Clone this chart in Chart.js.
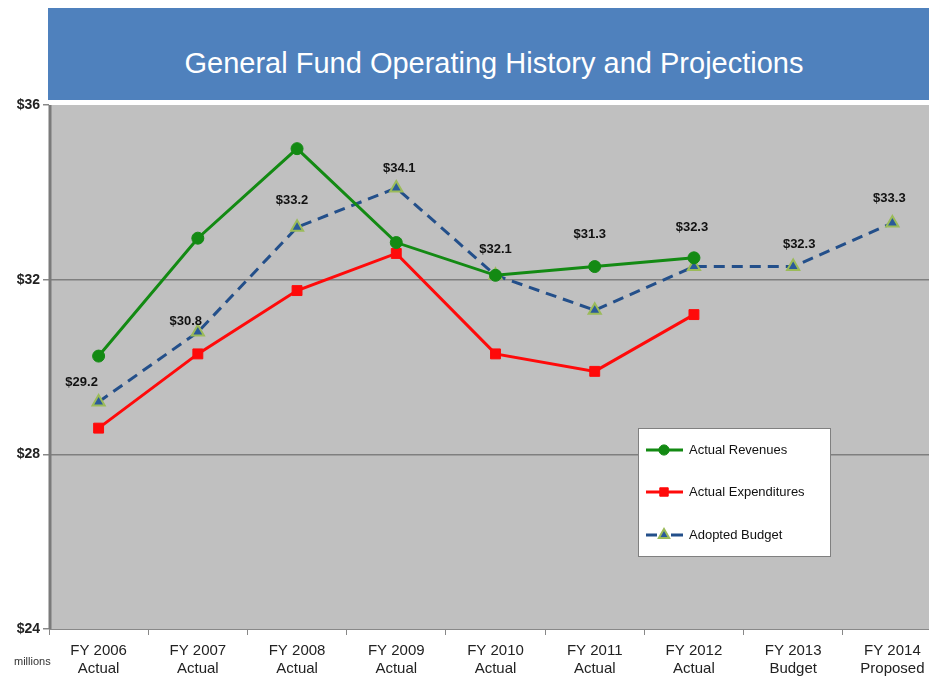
<!DOCTYPE html>
<html>
<head>
<meta charset="utf-8">
<script src="https://cdn.jsdelivr.net/npm/chart.js@4.4.1/dist/chart.umd.min.js"></script>
<style>
  html, body { margin: 0; padding: 0; background: #fff; overflow: hidden; width: 929px; height: 679px; }
  #banner {
    position: absolute; left: 48px; top: 8px; width: 892px; height: 92px;
    background: #4f81bd; color: #fff; font-family: "Liberation Sans", Arial, sans-serif;
    font-size: 29px; line-height: 29px; text-align: center; box-sizing: border-box;
    padding-top: 41px;
  }
  #wrap { position: absolute; left: 0; top: 0; width: 960px; height: 679px; }
  #millions { position: absolute; left: 14px; top: 655px; font: 11px "Liberation Sans", Arial, sans-serif; color: #333; }
</style>
</head>
<body>
<div id="wrap"><canvas id="chart" width="960" height="679"></canvas></div>
<div id="banner">General Fund Operating History and Projections</div>
<div id="millions">millions</div>
<script>
// --- Data ---
const categories = [
  ["FY 2006", "Actual"], ["FY 2007", "Actual"], ["FY 2008", "Actual"],
  ["FY 2009", "Actual"], ["FY 2010", "Actual"], ["FY 2011", "Actual"],
  ["FY 2012", "Actual"], ["FY 2013", "Budget"], ["FY 2014", "Proposed"],
];
const revenues = [30.25, 32.95, 35.0, 32.85, 32.1, 32.3, 32.5, null, null];
const expenditures = [28.6, 30.3, 31.75, 32.6, 30.3, 29.9, 31.2, null, null];
const budget = [29.2, 30.8, 33.2, 34.1, 32.1, 31.3, 32.3, 32.3, 33.3];
const yTicks = [24, 28, 32, 36];

// label offsets (px) for the budget values
const labelOffsets = [
  [-17, -20], [-12, -11], [-5, -27], [3, -20], [0, -26],
  [-5, -76], [-2, -39], [6, -22], [-3, -24],
];

const FONT = '"Liberation Sans", Arial, sans-serif';

const budgetLabels = {
  id: "budgetLabels",
  afterDatasetsDraw(c) {
    const ctx = c.ctx;
    const meta = c.getDatasetMeta(2);
    ctx.save();
    ctx.font = "bold 13px " + FONT;
    ctx.fillStyle = "#111";
    ctx.textAlign = "center";
    ctx.textBaseline = "middle";
    meta.data.forEach((pt, i) => {
      const [dx, dy] = labelOffsets[i];
      ctx.fillText("$" + budget[i].toFixed(1), pt.x + dx, pt.y + dy);
    });
    ctx.restore();
  },
};

const plotFrame = {
  id: "plotFrame",
  beforeDraw(c) {
    const { ctx, chartArea: a } = c;
    ctx.save();
    ctx.fillStyle = "#c0c0c0";
    ctx.fillRect(a.left, a.top, a.right - a.left, a.bottom - a.top);
    ctx.restore();
  },
  beforeDatasetsDraw(c) {
    const { ctx, chartArea: a } = c;
    ctx.save();
    ctx.strokeStyle = "#7a7a7a";
    ctx.lineWidth = 3;
    ctx.beginPath();
    ctx.moveTo(a.left + 1, a.top);
    ctx.lineTo(a.left + 1, a.bottom);
    ctx.stroke();
    ctx.restore();
  },
};

const boxLegend = {
  id: "boxLegend",
  afterDraw(c) {
    const ctx = c.ctx;
    const x = 638, y = 428, w = 192, h = 128;
    ctx.save();
    ctx.fillStyle = "#fff";
    ctx.fillRect(x, y, w, h);
    ctx.strokeStyle = "#808080";
    ctx.lineWidth = 1;
    ctx.strokeRect(x + 0.5, y + 0.5, w, h);
    const rowsY = [450, 492, 535];
    c.data.datasets.forEach((ds, i) => {
      const ry = rowsY[i];
      ctx.strokeStyle = ds.borderColor;
      ctx.lineWidth = 3;
      ctx.beginPath();
      if (ds.borderDash) {
        ctx.moveTo(646, ry); ctx.lineTo(657, ry);
        ctx.moveTo(671, ry); ctx.lineTo(683, ry);
      } else {
        ctx.moveTo(646, ry); ctx.lineTo(683, ry);
      }
      ctx.stroke();
      ctx.fillStyle = ds.pointBackgroundColor;
      ctx.strokeStyle = ds.pointBorderColor;
      ctx.lineWidth = ds.pointBorderWidth || 1;
      Chart.helpers.drawPoint(ctx, {
        pointStyle: ds.pointStyle,
        radius: ds.pointRadius * 0.85,
        borderWidth: ds.pointBorderWidth || 1,
      }, 664, ry);
      ctx.fillStyle = "#111";
      ctx.font = "13px " + FONT;
      ctx.textAlign = "left";
      ctx.textBaseline = "middle";
      ctx.fillText(ds.label, 689, ry);
    });
    ctx.restore();
  },
};

new Chart(document.getElementById("chart"), {
  type: "line",
  data: {
    labels: categories,
    datasets: [
      {
        label: "Actual Revenues",
        data: revenues,
        borderColor: "#138a13",
        backgroundColor: "#138a13",
        pointBackgroundColor: "#138a13",
        pointBorderColor: "#138a13",
        borderWidth: 3,
        pointStyle: "circle",
        pointRadius: 6,
        pointBorderWidth: 1,
        tension: 0,
      },
      {
        label: "Actual Expenditures",
        data: expenditures,
        borderColor: "#ff0a0a",
        backgroundColor: "#ff0a0a",
        pointBackgroundColor: "#ff0a0a",
        pointBorderColor: "#ff0a0a",
        borderWidth: 3,
        pointStyle: "rect",
        pointRadius: 7,
        pointBorderWidth: 1,
        tension: 0,
      },
      {
        label: "Adopted Budget",
        data: budget,
        borderColor: "#234f8a",
        backgroundColor: "#234f8a",
        pointBackgroundColor: "#2a5a9a",
        pointBorderColor: "#9bbb59",
        borderWidth: 3,
        borderDash: [11, 7],
        pointStyle: "triangle",
        pointRadius: 7,
        pointBorderWidth: 2,
        tension: 0,
      },
    ],
  },
  options: {
    responsive: false,
    animation: false,
    layout: { padding: { left: 0, top: 105, right: 18, bottom: 0 } },
    plugins: { legend: { display: false }, tooltip: { enabled: false } },
    scales: {
      x: {
        offset: true,
        grid: {
          offset: true,
          drawOnChartArea: false,
          drawTicks: true,
          tickLength: 6,
          color: "#888",
        },
        border: { color: "#888", width: 1 },
        ticks: {
          color: "#222",
          font: { family: FONT, size: 15 },
          maxRotation: 0,
          autoSkip: false,
          padding: 7,
        },
        afterFit(s) { s.height = 50; },
      },
      y: {
        min: 24,
        max: 36,
        afterBuildTicks(s) { s.ticks = yTicks.map((v) => ({ value: v })); },
        grid: {
          color: (ctx) => (ctx.tick && (ctx.tick.value === 28 || ctx.tick.value === 32) ? "#7f7f7f" : "rgba(0,0,0,0)"),
          lineWidth: 1.5,
          drawTicks: true,
          tickLength: 6,
          tickColor: "#888",
        },
        border: { color: "#888", width: 1 },
        ticks: {
          color: "#222",
          font: { family: FONT, size: 14, weight: "bold" },
          padding: 3,
          callback: (v) => "$" + v,
        },
        afterFit(s) { s.width = 49; },
      },
    },
  },
  plugins: [plotFrame, budgetLabels, boxLegend],
});
</script>
</body>
</html>
